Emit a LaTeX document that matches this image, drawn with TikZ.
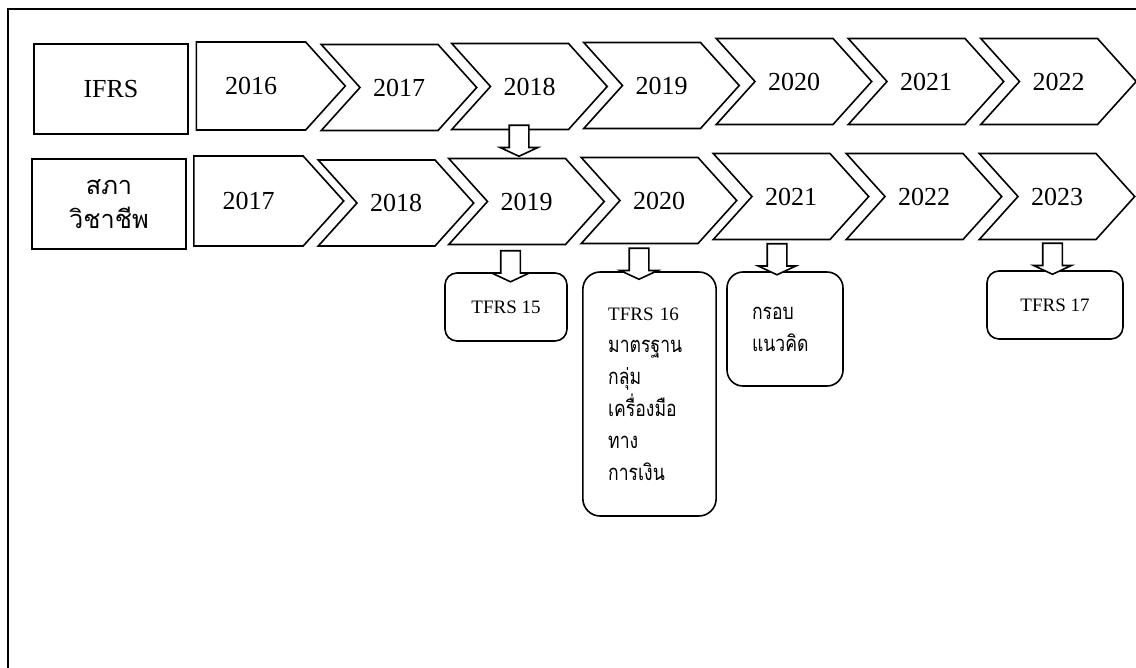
\documentclass[tikz,border=0pt]{standalone}
\usepackage{fontspec}
\setmainfont{Liberation Serif}
\newfontfamily\thaifont[Script=Thai]{Loma}
\newfontfamily\thainarrow[Script=Thai, FakeStretch=0.8]{Loma}
\usetikzlibrary{shapes.symbols,shapes.arrows}

\newcommand{\thtext}[1]{{\thainarrow\fontsize{16.5}{24}\selectfont #1}}

\begin{document}
\begin{tikzpicture}[x=0.75pt, y=-0.75pt,
    yearsig/.style={draw, line width=1.2pt,
        signal, signal to=east, signal from=west,
        signal pointer angle=96,
        inner sep=0pt, text width=58.5pt, align=center,
        minimum height=64.5pt,
        font=\fontsize{19.5}{22}\selectfont},
    firstsig/.style={yearsig, signal from=nowhere, text width=82pt},
    rowlabel/.style={draw, line width=1.2pt,
        minimum width=115.5pt, minimum height=67.5pt, align=center},
    notebox/.style={draw, line width=1.2pt, rounded corners=9pt,
        inner sep=0pt, font=\fontsize{14.25}{24}\selectfont},
    downarrow/.style={draw, fill=white, line width=1.2pt,
        single arrow, shape border rotate=270,
        single arrow head extend=6.75pt, single arrow tip angle=130,
        single arrow head indent=0pt,
        inner sep=6.75pt, minimum height=23.25pt}
]
    \useasboundingbox (0,0) rectangle (1136,668);

    % outer frame
    \draw[line width=1pt] (8,9) rectangle (1160,690);

    % IFRS row
    \node[rowlabel, font=\fontsize{19.5}{22}\selectfont] (ifrs) at (111,89) {IFRS};
    \node[firstsig, minimum height=66pt] (i16) at (251,86) {2016};
    \node[yearsig] (i17) at (399,87.5) {2017};
    \node[yearsig] (i18) at (529.5,86.5) {2018};
    \node[yearsig] (i19) at (661.5,85.5) {2019};
    \node[yearsig] (i20) at (794,81.5) {2020};
    \node[yearsig] (i21) at (926,81.5) {2021};
    \node[yearsig] (i22) at (1058.5,81.5) {2022};

    % TFAC row
    \node[rowlabel, font=\thaifont\fontsize{19}{25.5}\selectfont] (tfac) at (109,204) {สภา\\วิชาชีพ};
    \node[firstsig, minimum height=67.5pt] (t17) at (248.5,201) {2017};
    \node[yearsig] (t18) at (396,203) {2018};
    \node[yearsig] (t19) at (526.5,201.5) {2019};
    \node[yearsig] (t20) at (659,200.5) {2020};
    \node[yearsig] (t21) at (791,196.5) {2021};
    \node[yearsig] (t22) at (924,196.5) {2022};
    \node[yearsig] (t23) at (1057,196.5) {2023};

    % standards
    \node[notebox, minimum width=91.5pt, minimum height=51pt] (s15) at (506,307) {TFRS 15};
    \node[notebox, rounded corners=13pt, minimum width=100pt, minimum height=183pt,
        text width=62pt, align=left] (s16) at (649.5,394)
        {TFRS 16\\\thtext{มาตรฐาน}\\\thtext{กลุ่ม}\\\thtext{เครื่องมือ}\\\thtext{ทาง}\\\thtext{การเงิน}};
    \node[notebox, rounded corners=12pt, minimum width=87pt, minimum height=85.5pt,
        text width=49.5pt, align=left] (frame) at (785,329)
        {\thtext{กรอบ}\\\thtext{แนวคิด}};
    \node[notebox, minimum width=102pt, minimum height=51pt] (s17) at (1055,305) {TFRS 17};

    % block arrows
    \node[downarrow] (a18) at (519,138.5) {};
    \node[downarrow] (a19) at (510.5,264) {};
    \node[downarrow] (a20) at (639,261.5) {};
    \node[downarrow] (a21) at (777,257) {};
    \node[downarrow] (a23) at (1052.5,256.5) {};

\end{tikzpicture}
\end{document}
